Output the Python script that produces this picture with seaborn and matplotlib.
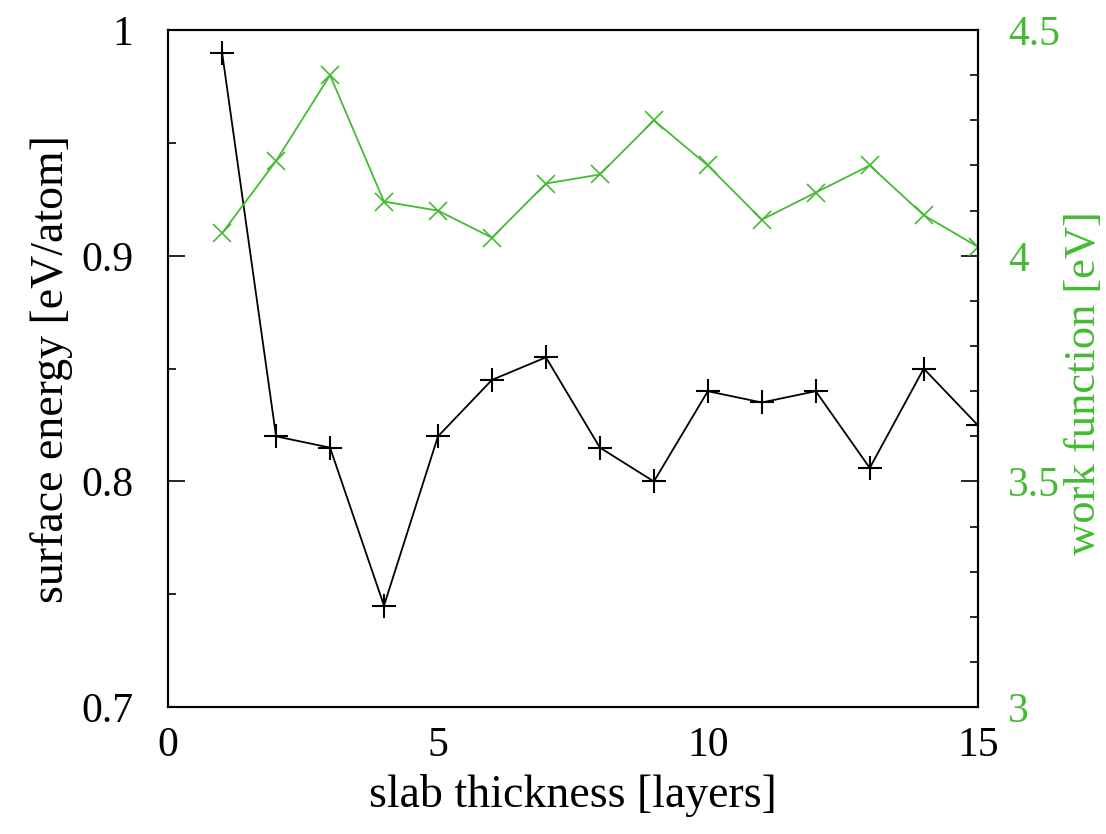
import numpy as np
import pandas as pd
import matplotlib
matplotlib.use('Agg')
import matplotlib.pyplot as plt
import seaborn as sns
from matplotlib.ticker import MultipleLocator

# Data
layers = [1, 2, 3, 4, 5, 6, 7, 8, 9, 10, 11, 12, 13, 14, 15]
surface_energy = [0.990, 0.820, 0.815, 0.745, 0.820, 0.845, 0.855, 0.815,
                  0.800, 0.840, 0.835, 0.840, 0.806, 0.850, 0.825]
work_function = [4.05, 4.21, 4.40, 4.12, 4.10, 4.04, 4.16, 4.18,
                 4.30, 4.20, 4.08, 4.14, 4.20, 4.09, 4.02]

green = '#44bb33'

sns.set_style('white')
plt.rcParams['font.family'] = ['Liberation Serif', 'DejaVu Serif']
plt.rcParams['text.color'] = 'black'
plt.rcParams['axes.labelcolor'] = 'black'
plt.rcParams['xtick.color'] = 'black'
plt.rcParams['ytick.color'] = 'black'

df = pd.DataFrame({'layers': layers, 'se': surface_energy, 'wf': work_function})

fig = plt.figure(figsize=(11.06, 8.34), dpi=100)
ax = fig.add_axes([0.152, 0.152, 0.732, 0.812])

sns.lineplot(data=df, x='layers', y='se', ax=ax, color='black', marker='+',
             markersize=17, markeredgewidth=1.5, markeredgecolor='black',
             linewidth=1.3)
ax.set_xlim(0, 15)
ax.set_ylim(0.7, 1.0)
ax.xaxis.set_major_locator(MultipleLocator(5))
ax.xaxis.set_minor_locator(MultipleLocator(1))
ax.set_yticks([0.7, 0.8, 0.9, 1.0])
ax.set_yticklabels(['0.7', '0.8', '0.9', '1'])
ax.yaxis.set_minor_locator(MultipleLocator(0.05))
ax.tick_params(axis='both', which='major', direction='in', length=12, width=1.2,
               labelsize=30, top=False, right=False)
ax.tick_params(axis='y', which='major', pad=25)
ax.tick_params(axis='x', which='major', pad=14)
ax.tick_params(axis='both', which='minor', direction='in', length=6, width=1.2,
               top=False, right=False)
ax.set_xlabel('slab thickness [layers]', fontsize=33, labelpad=6)
ax.set_ylabel('surface energy [eV/atom]', fontsize=33)
ax.yaxis.set_label_coords(-0.118, 0.5)

ax2 = ax.twinx()
sns.lineplot(data=df, x='layers', y='wf', ax=ax2, color=green, marker='x',
             markersize=13, markeredgewidth=1.2, markeredgecolor=green,
             linewidth=1.3)
ax2.set_ylim(3.0, 4.5)
ax2.set_yticks([3.0, 3.5, 4.0, 4.5])
ax2.set_yticklabels(['3', '3.5', '4', '4.5'])
ax2.yaxis.set_minor_locator(MultipleLocator(0.1))
ax2.tick_params(axis='y', which='major', direction='in', length=12, width=1.2,
                labelsize=30, labelcolor=green, pad=22)
ax2.tick_params(axis='y', which='minor', direction='in', length=6, width=1.2)
ax2.set_ylabel('work function [eV]', fontsize=32, color=green)
ax2.yaxis.set_label_coords(1.107, 0.479)

for a in (ax, ax2):
    for s in a.spines.values():
        s.set_color('black')
        s.set_linewidth(1.5)

fig.savefig('out.png', dpi=100)
